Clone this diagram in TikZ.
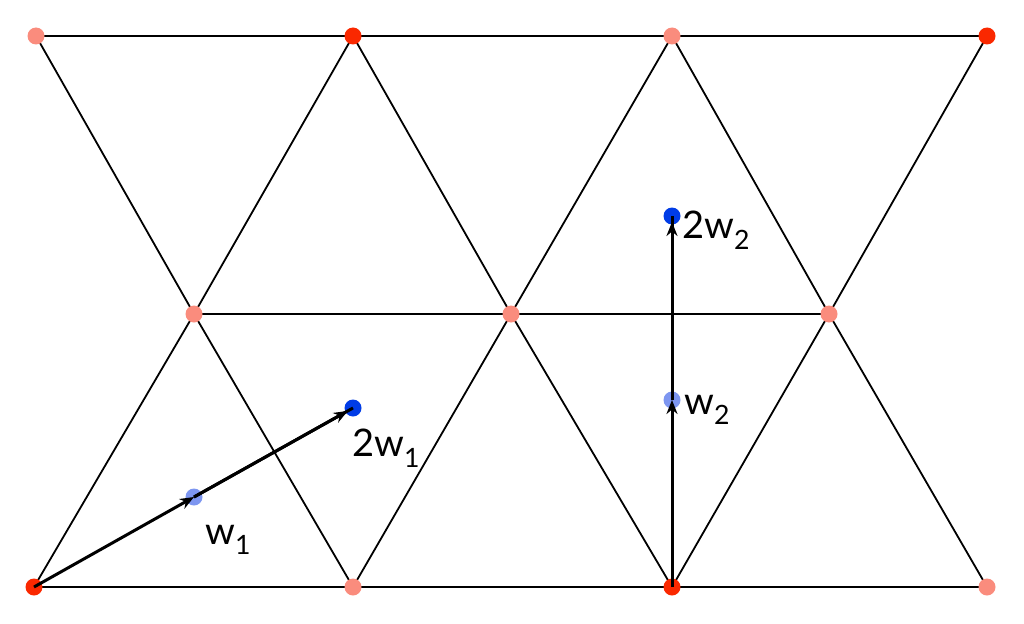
\documentclass[tikz,border=0pt]{standalone}
\usepackage{fontspec}
\setmainfont{Lato}
\usetikzlibrary{arrows.meta,decorations.markings}
\definecolor{rd}{RGB}{250,40,0}
\definecolor{pk}{RGB}{250,140,125}
\definecolor{bl}{RGB}{0,60,230}
\definecolor{lb}{RGB}{125,150,240}
\begin{document}
\begin{tikzpicture}[x=1pt,y=-1pt,
  edge/.style={line width=1.8pt,black},
  pt/.style={circle,fill=#1,inner sep=0pt,minimum size=17pt},
  vec/.style={line width=3pt,-{Stealth[length=14pt,width=11pt]},shorten >=6pt},
  lbl/.style={font=\fontsize{38}{38}\selectfont,inner sep=0pt}]
\useasboundingbox (0,0) rectangle (1024,623);
\coordinate (t1) at (36,36); \coordinate (t2) at (353,36); \coordinate (t3) at (672,36); \coordinate (t4) at (987,36);
\coordinate (m1) at (194,314); \coordinate (m2) at (511,314); \coordinate (m3) at (829,314);
\coordinate (b1) at (34,587); \coordinate (b2) at (353,587); \coordinate (b3) at (672,587); \coordinate (b4) at (987,587);
\draw[edge] (t1)--(t4) (m1)--(m3) (b1)--(b4);
\draw[edge] (t1)--(m1)--(t2)--(m2)--(t3)--(m3)--(t4);
\draw[edge] (b1)--(m1)--(b2)--(m2)--(b3)--(m3)--(b4);
\foreach \p in {t2,t4,b1,b3} \node[pt=rd] (n\p) at (\p) {};
\foreach \p in {t1,t3,m1,m2,m3,b2,b4} \node[pt=pk] (n\p) at (\p) {};
\node[pt=lb] (w1) at (194,497) {};
\node[pt=bl] (ww1) at (353,408) {};
\node[pt=lb] (w2) at (672,400) {};
\node[pt=bl] (ww2) at (672,216) {};
\draw[vec,shorten >=0pt] (b1) -- (w1.center);
\draw[vec] (w1.center) -- (ww1.center);
\draw[line width=3pt] (w1.center)--(ww1.center);
\draw[vec,shorten >=0pt] (b3) -- (w2.center);
\draw[vec] (w2.center) -- (ww2.center);
\draw[line width=3pt] (w2.center)--(ww2.center);
\node[lbl,anchor=west] at (205,540) {w\textsubscript{1}};
\node[lbl,anchor=west] at (352,448) {2w\textsubscript{1}};
\node[lbl,anchor=west] at (684,410) {w\textsubscript{2}};
\node[lbl,anchor=west] at (682,230) {2w\textsubscript{2}};
\end{tikzpicture}
\end{document}
